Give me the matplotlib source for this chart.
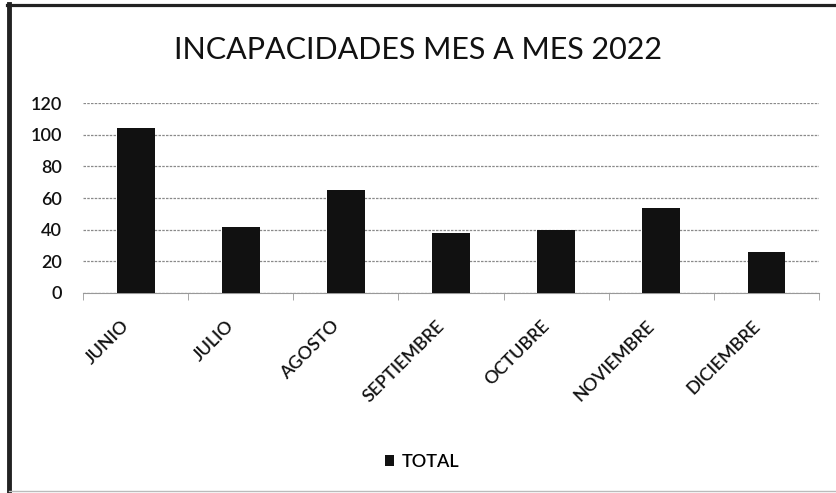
import matplotlib
matplotlib.use("Agg")
import matplotlib.pyplot as plt
from matplotlib.lines import Line2D
from matplotlib.transforms import ScaledTranslation
import numpy as np

months = ["JUNIO", "JULIO", "AGOSTO", "SEPTIEMBRE", "OCTUBRE", "NOVIEMBRE", "DICIEMBRE"]
totals = [104, 42, 65, 38, 40, 54, 26]
yticks = [0, 20, 40, 60, 80, 100, 120]
title = "INCAPACIDADES MES A MES 2022"
series_name = "TOTAL"

plt.rcParams['font.family'] = ['Lato', 'DejaVu Sans']

fig = plt.figure(figsize=(8.36, 4.93), dpi=100)
ax = fig.add_axes([0.0993, 0.4057, 0.8804, 0.3853])

x = np.arange(len(months))
bars = ax.bar(x, totals, width=0.36, color='#111111', label=series_name, zorder=3)

ax.set_ylim(0, 120)
ax.set_xlim(-0.5, len(months) - 0.5)
ax.set_yticks(yticks)
ax.set_yticklabels([str(v) for v in yticks], fontsize=13, color='#111111', fontweight='semibold')
ax.yaxis.grid(True, color='#8a8a8a', linewidth=0.9, linestyle=(0, (2, 1)))
ax.set_axisbelow(True)
ax.tick_params(axis='y', length=0, pad=15)

ax.set_xticks(x)
ax.set_xticklabels(months, rotation=45, ha='right', va='center', rotation_mode='anchor',
                   fontsize=13, color='#111111', fontweight='semibold')
ax.tick_params(axis='x', length=0, pad=22)
shift = ScaledTranslation(-0.09, 0, fig.dpi_scale_trans)
for lbl in ax.get_xticklabels():
    lbl.set_transform(lbl.get_transform() + shift)
ax.set_xticks(np.arange(-0.5, len(months), 1), minor=True)
ax.tick_params(axis='x', which='minor', length=5, color='#999999')

for s in ['top', 'right', 'left']:
    ax.spines[s].set_visible(False)
ax.spines['bottom'].set_color('#999999')

fig.text(0.5, 0.899, title, ha='center', va='center', fontsize=22, color='#111111')

fig.legend(handles=[bars], labels=[series_name], loc='center', bbox_to_anchor=(0.505, 0.063),
           frameon=False, fontsize=13, handlelength=0.5, handleheight=0.5, handletextpad=0.4,
           prop={'size': 13, 'weight': 'semibold'})

# scanned frame: thick top and left, faint bottom
fig.add_artist(Line2D([0.008, 1], [0.989, 0.989], transform=fig.transFigure, color='#222222', linewidth=2.3))
fig.add_artist(Line2D([0.0108, 0.0108], [0, 0.991], transform=fig.transFigure, color='#222222', linewidth=3.5))
fig.add_artist(Line2D([0.0108, 1], [0.004, 0.004], transform=fig.transFigure, color='#bbbbbb', linewidth=1))

fig.savefig("out.png", dpi=100)
